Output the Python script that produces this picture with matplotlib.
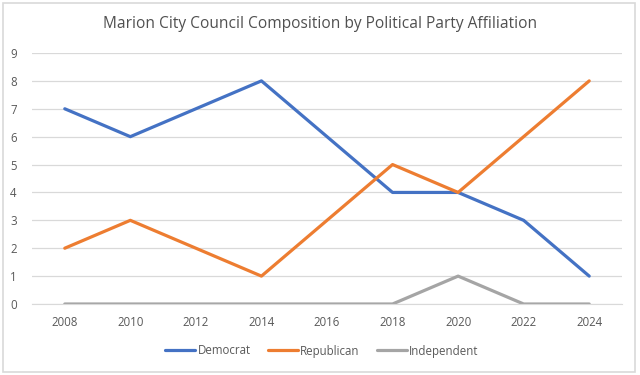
import matplotlib
matplotlib.use("Agg")
import matplotlib.pyplot as plt
from matplotlib.patches import Rectangle

years = [2008, 2010, 2012, 2014, 2016, 2018, 2020, 2022, 2024]
democrat = [7, 6, 7, 8, 6, 4, 4, 3, 1]
republican = [2, 3, 2, 1, 3, 5, 4, 6, 8]
independent = [0, 0, 0, 0, 0, 0, 1, 0, 0]
yticks = list(range(0, 10))
title = "Marion City Council Composition by Political Party Affiliation"

plt.rcParams['font.family'] = ['Open Sans', 'DejaVu Sans']

fig = plt.figure(figsize=(6.4, 3.75), dpi=100)
fig.patches.append(Rectangle((3/640, 3/375), 632/640, 369/375, transform=fig.transFigure,
                             fill=False, edgecolor='#D9D9D9', linewidth=1.2))
ax = fig.add_axes([32/640, 1-304/375, 590/640, 251/375])

ax.plot(years, democrat, color='#4472C4', lw=2.3, label='Democrat', solid_capstyle='round')
ax.plot(years, republican, color='#ED7D31', lw=2.3, label='Republican', solid_capstyle='round')
ax.plot(years, independent, color='#A5A5A5', lw=2.3, label='Independent', solid_capstyle='round')

ax.set_xlim(2007, 2025)
ax.set_ylim(0, 9)
ax.set_yticks(yticks)
ax.set_xticks(years)
ax.grid(axis='y', color='#D9D9D9', lw=0.9)
ax.set_axisbelow(True)
for s in ax.spines.values():
    s.set_visible(False)
ax.spines['bottom'].set_visible(True)
ax.spines['bottom'].set_color('#D9D9D9')
ax.tick_params(axis='both', length=0, labelsize=8.3, colors='#595959')
ax.tick_params(axis='y', pad=11)
ax.tick_params(axis='x', pad=9)

fig.text(320/640, 1-24/375, title, ha='center', va='center', fontsize=11.2, color='#505050')
fig.legend(loc='center', bbox_to_anchor=(322/640, 1-351/375), ncol=3, frameon=False,
           fontsize=8.3, labelcolor='#595959', handlelength=2.6, handletextpad=0.2, columnspacing=1.5)

fig.savefig('out.png', dpi=100)
